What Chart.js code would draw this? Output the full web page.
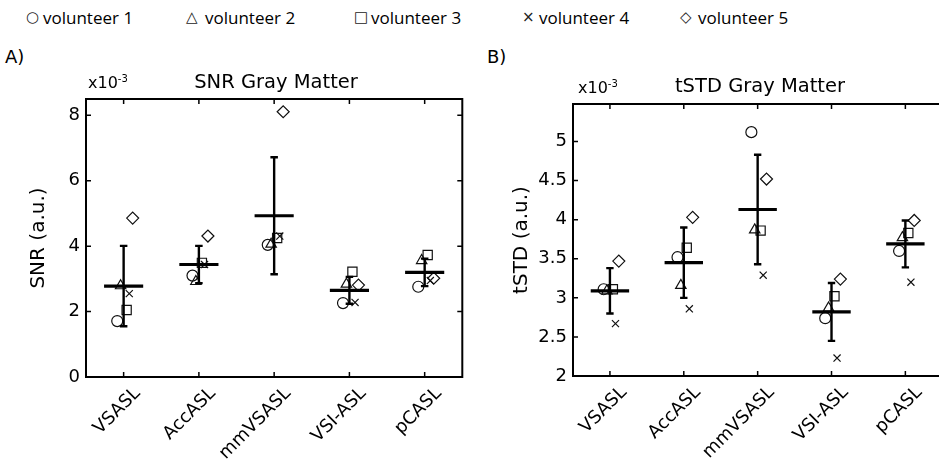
<!DOCTYPE html>
<html>
<head>
<meta charset="utf-8">
<script src="https://cdn.jsdelivr.net/npm/chart.js@4.4.1/dist/chart.umd.min.js"></script>
<style>
  html, body { margin: 0; padding: 0; background: #fff; overflow: hidden; }
  #wrap { position: relative; width: 939px; height: 465px; overflow: hidden; }
  .abs { position: absolute; white-space: nowrap; color: #000; line-height: 1; }
  .leg { font-family: 'Open Sans', sans-serif; font-size: 17px; top: 9px; }
  .sym { font-family: 'DejaVu Sans', sans-serif; font-size: 15px; top: 10px; color: #222; }
  .ttl { font-family: 'DejaVu Sans', sans-serif; font-size: 19.5px; transform: translate(-50%, -50%); }
  .mult { font-family: 'DejaVu Sans', sans-serif; font-size: 16px; transform: translateY(-50%); }
  .mult sup { font-size: 10px; vertical-align: 6px; }
  .panel { font-family: 'DejaVu Sans', sans-serif; font-size: 18px; top: 48px; }
  canvas { position: absolute; top: 0; }
</style>
</head>
<body>
<div id="wrap">
  <span class="abs sym" style="left:26px">○</span><span class="abs leg" style="left:43px">volunteer 1</span>
  <span class="abs sym" style="left:186px">△</span><span class="abs leg" style="left:205px">volunteer 2</span>
  <span class="abs sym" style="left:354px">□</span><span class="abs leg" style="left:371px">volunteer 3</span>
  <span class="abs sym" style="left:522px">×</span><span class="abs leg" style="left:539px">volunteer 4</span>
  <span class="abs sym" style="left:680px">◇</span><span class="abs leg" style="left:698px">volunteer 5</span>

  <span class="abs panel" style="left:5px">A)</span>
  <span class="abs panel" style="left:487px">B)</span>

  <canvas id="chartA" width="470" height="465" style="left:0px"></canvas>
  <canvas id="chartB" width="480" height="465" style="left:470px"></canvas>

  <span class="abs mult" style="left:88px;top:82px">x10<sup>-3</sup></span>
  <span class="abs ttl" style="left:276px;top:82px">SNR Gray Matter</span>
  <span class="abs mult" style="left:578px;top:87px">x10<sup>-3</sup></span>
  <span class="abs ttl" style="left:760px;top:86px">tSTD Gray Matter</span>
</div>

<script>
// ---- data (values in units of 1e-3) ----
const METHODS = ['VSASL', 'AccASL', 'mmVSASL', 'VSI-ASL', 'pCASL'];
const VOLUNTEERS = ['volunteer 1', 'volunteer 2', 'volunteer 3', 'volunteer 4', 'volunteer 5'];
const JITTER = [-0.085, -0.04, 0.04, 0.075, 0.12];

const SNR_V1 = [1.71, 3.10, 4.04, 2.26, 2.76];
const SNR_V2 = [2.79, 2.92, 4.06, 2.84, 3.56];
const SNR_V3 = [2.05, 3.49, 4.25, 3.22, 3.73];
const SNR_V4 = [2.55, 3.44, 4.31, 2.28, 2.95];
const SNR_V5 = [4.86, 4.31, 8.11, 2.81, 3.02];
const SNR_MEAN = [2.78, 3.44, 4.93, 2.65, 3.20];
const SNR_SD = [1.23, 0.57, 1.79, 0.41, 0.42];
const SNR_TICKS = [0, 2, 4, 6, 8];

const TSTD_V1 = [3.11, 3.52, 5.12, 2.74, 3.60];
const TSTD_V2 = [3.09, 3.16, 3.87, 2.87, 3.77];
const TSTD_V3 = [3.11, 3.64, 3.86, 3.02, 3.83];
const TSTD_V4 = [2.67, 2.86, 3.29, 2.23, 3.20];
const TSTD_V5 = [3.47, 4.03, 4.52, 3.24, 3.99];
const TSTD_MEAN = [3.09, 3.45, 4.13, 2.82, 3.69];
const TSTD_SD = [0.29, 0.45, 0.70, 0.37, 0.30];
const TSTD_TICKS = [2, 2.5, 3, 3.5, 4, 4.5, 5];

const MARKERS = ['circle', 'triangle', 'rect', 'crossRot', 'rectRot'];
const MARKER_R = [5.5, 6, 6.5, 5, 6];
const BAR_HALF = 0.26;
const CAP_HALF = 0.05;
const FONT = "'DejaVu Sans', sans-serif";

// MATLAB-like box with inward tick marks
const boxPlugin = {
  id: 'matlabBox',
  afterDatasetsDraw(chart, args, opts) {
    const { ctx, chartArea: a, scales: { x, y } } = chart;
    ctx.save();
    ctx.strokeStyle = '#000';
    ctx.lineWidth = 2;
    ctx.strokeRect(a.left, a.top, a.right - a.left, a.bottom - a.top);
    ctx.lineWidth = 1.5;
    ctx.beginPath();
    x.ticks.forEach(t => {
      const px = x.getPixelForValue(t.value);
      ctx.moveTo(px, a.bottom); ctx.lineTo(px, a.bottom - 5);
      ctx.moveTo(px, a.top); ctx.lineTo(px, a.top + 5);
    });
    y.ticks.forEach(t => {
      const py = y.getPixelForValue(t.value);
      ctx.moveTo(a.left, py); ctx.lineTo(a.left + 5, py);
      if (opts.rightTicks) { ctx.moveTo(a.right, py); ctx.lineTo(a.right - 5, py); }
    });
    ctx.stroke();
    ctx.restore();
  }
};

function makePanel(id, series, mean, sd, yMin, yMax, yTicks, yTitle, lay) {
  const pts = series.map((vals, v) => ({
    label: VOLUNTEERS[v],
    data: vals.map((val, i) => ({ x: i + 1 + JITTER[v], y: val })),
    pointStyle: MARKERS[v],
    pointRadius: MARKER_R[v],
    pointBorderWidth: 1.2,
    pointBorderColor: '#111',
    pointBackgroundColor: 'rgba(0,0,0,0)',
    showLine: false
  }));

  const bars = {
    label: 'mean',
    data: mean.flatMap((m, i) => [
      { x: i + 1 - BAR_HALF, y: m }, { x: i + 1 + BAR_HALF, y: m }, { x: i + 1, y: null }
    ]),
    showLine: true, spanGaps: false, pointRadius: 0,
    borderColor: '#000', borderWidth: 3.2
  };

  const errs = {
    label: 'sd',
    data: mean.flatMap((m, i) => {
      const lo = m - sd[i], hi = m + sd[i], c = i + 1;
      return [
        { x: c, y: lo }, { x: c, y: hi }, { x: c, y: null },
        { x: c - CAP_HALF, y: hi }, { x: c + CAP_HALF, y: hi }, { x: c, y: null },
        { x: c - CAP_HALF, y: lo }, { x: c + CAP_HALF, y: lo }, { x: c, y: null }
      ];
    }),
    showLine: true, spanGaps: false, pointRadius: 0,
    borderColor: '#000', borderWidth: 2.4
  };

  return new Chart(document.getElementById(id), {
    type: 'scatter',
    data: { datasets: [errs, bars, ...pts] },
    plugins: [boxPlugin],
    options: {
      responsive: false,
      animation: false,
      devicePixelRatio: 1,
      layout: { padding: { top: lay.top, right: lay.right, left: 0, bottom: 0 } },
      plugins: {
        legend: { display: false },
        tooltip: { enabled: false },
        matlabBox: { rightTicks: lay.rightTicks }
      },
      scales: {
        x: {
          type: 'linear', min: 0.5, max: 5.5,
          grid: { display: false, drawTicks: false },
          border: { display: false },
          afterBuildTicks: s => { s.ticks = METHODS.map((m, i) => ({ value: i + 1 })); },
          afterFit: s => { s.height = lay.xh; },
          ticks: {
            color: '#000', font: { family: FONT, size: 18 },
            minRotation: 45, maxRotation: 45, padding: 6, labelOffset: 14,
            callback: v => METHODS[v - 1] || ''
          }
        },
        y: {
          type: 'linear', min: yMin, max: yMax,
          grid: { display: false, drawTicks: false },
          border: { display: false },
          afterBuildTicks: s => { s.ticks = yTicks.map(v => ({ value: v })); },
          afterFit: s => { s.width = lay.yw; },
          ticks: { color: '#000', font: { family: FONT, size: 18 }, padding: 6, callback: v => String(v) },
          title: {
            display: true, text: yTitle, color: '#000',
            font: { family: FONT, size: 20 }, padding: { top: lay.tp, bottom: 0 }
          }
        }
      }
    }
  });
}

makePanel('chartA', [SNR_V1, SNR_V2, SNR_V3, SNR_V4, SNR_V5], SNR_MEAN, SNR_SD,
  0, 8.5, SNR_TICKS, 'SNR (a.u.)', { top: 99, right: 4, xh: 88, yw: 86, tp: 27, rightTicks: true });
makePanel('chartB', [TSTD_V1, TSTD_V2, TSTD_V3, TSTD_V4, TSTD_V5], TSTD_MEAN, TSTD_SD,
  2, 5.48, TSTD_TICKS, 'tSTD (a.u.)', { top: 104, right: 5, xh: 89, yw: 103, tp: 40, rightTicks: false });
</script>
</body>
</html>
